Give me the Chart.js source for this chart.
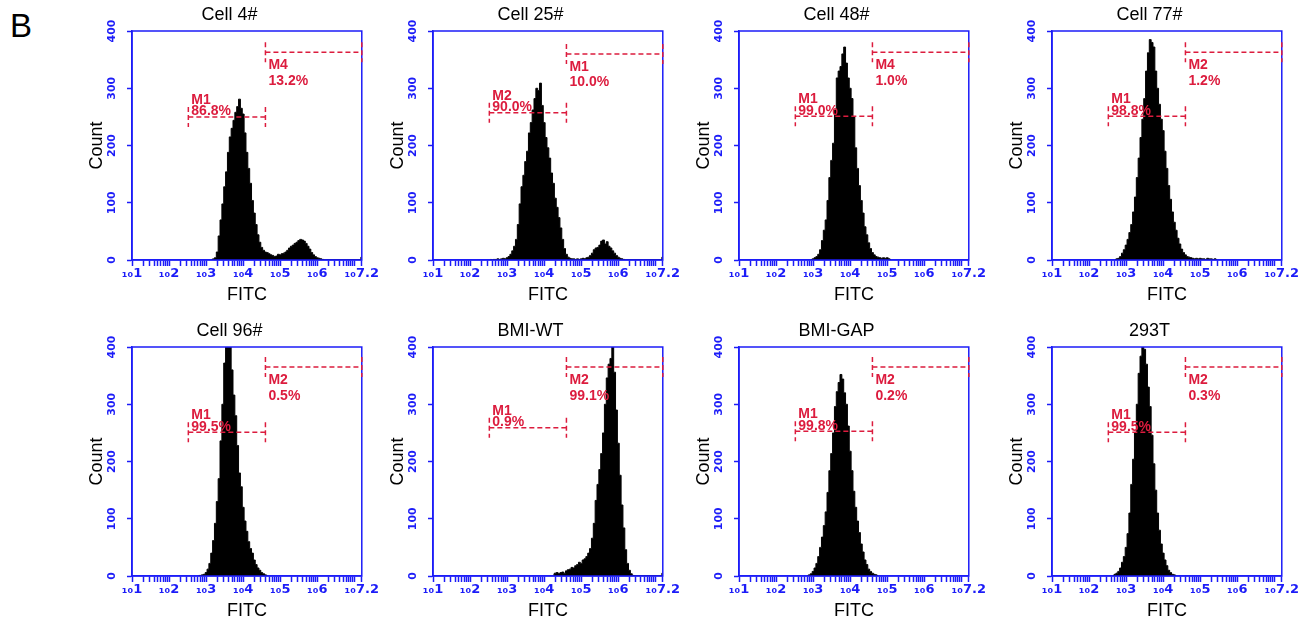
<!DOCTYPE html>
<html><head><meta charset="utf-8">
<script src="https://cdn.jsdelivr.net/npm/chart.js@4.4.1/dist/chart.umd.min.js"></script>
<style>
html,body{margin:0;padding:0;background:#fff;}
#wrap{position:relative;width:1303px;height:622px;overflow:hidden;background:#fff;}
#wrap canvas{position:absolute;}
#lbl{position:absolute;left:10px;top:9px;font-family:"Liberation Sans",Arial,sans-serif;font-size:33px;line-height:1;color:#000;}
</style></head><body>
<div id="wrap"><div id="lbl">B</div></div>
<script>
// ---------------- data ----------------
const panelTitles = ['Cell 4#', 'Cell 25#', 'Cell 48#', 'Cell 77#', 'Cell 96#', 'BMI-WT', 'BMI-GAP', '293T'];
// log10(FITC) of the first histogram bin and bin width (decades)
const binStart = [3.15, 2.55, 2.95, 2.70, 2.80, 4.25, 2.85, 2.65];
const binWidth = 0.05;
const cell4Counts = [1,2,4,14,42,70,98,128,154,188, 215,230,244,258,268,281,265,255,222,188, 160,134,104,82,62,44,31,22,17,14, 13,11,9,8,6,7,10,9,11,12, 14,17,21,24,26,29,31,34,36,35, 33,29,24,19,13,9,6,4,3,2, 1,0];
const cell25Counts = [1,0,1,1,2,1,2,3,2,4, 6,10,16,24,36,62,98,128,148,172, 190,222,240,262,282,300,296,309,270,240, 214,196,178,152,134,108,92,74,56,36, 20,10,5,3,2,2,1,2,1,2, 3,2,4,5,8,12,18,21,22,26, 33,35,28,32,24,21,16,12,8,5, 3,2,1];
const cell48Counts = [1,2,4,6,10,18,34,52,70,104, 144,174,204,262,318,330,338,360,372,344, 318,300,282,250,196,160,130,104,82,58, 44,30,20,13,9,6,5,4,3,4, 3,4,2,1];
const cell77Counts = [1,2,3,6,12,18,26,36,48,62, 84,110,144,178,214,246,282,330,362,385, 380,372,330,300,272,246,226,190,160,130, 106,84,66,52,38,28,19,13,9,6, 5,4,3,2,3,2,3,2,2,1, 3,2,2,1,2,1];
const cell96Counts = [1,1,2,3,6,12,22,40,62,92, 130,170,236,300,372,400,400,400,360,316, 280,228,180,156,120,96,78,60,48,40, 28,20,14,10,6,4,2,1];
const bmiWtCounts = [3,5,6,4,6,7,5,9,11,12, 15,14,18,20,24,22,28,30,34,40, 48,66,92,132,160,186,214,250,300,346, 370,380,400,356,290,232,176,124,84,46, 22,10,4,1];
const bmiGapCounts = [1,2,4,8,14,22,34,50,68,88, 112,146,184,214,250,296,322,338,352,344, 320,300,262,218,184,148,120,96,76,56, 42,28,20,12,8,5,3,2,1];
const t293Counts = [1,3,5,8,14,24,34,50,74,110, 160,204,250,300,354,384,400,396,370,330, 296,246,196,150,110,80,56,40,28,18, 10,6,3,2,1];
const panelCounts = [cell4Counts, cell25Counts, cell48Counts, cell77Counts, cell96Counts, bmiWtCounts, bmiGapCounts, t293Counts];
// events piled up at the top of the scale (10^7.2)
const edgeCounts = [5, 5, 0, 0, 0, 5, 0, 0];

// gates (marker regions), in log10 units
const leftGateRange = [2.52, 4.6];
const rightGateRange = [4.6, 7.2];
const leftGateName = ['M1', 'M2', 'M1', 'M1', 'M1', 'M1', 'M1', 'M1'];
const leftGatePct = ['86.8%', '90.0%', '99.0%', '98.8%', '99.5%', '0.9%', '99.8%', '99.5%'];
const leftGateLevel = [250, 257, 251, 251, 251, 259, 253, 251];
const rightGateName = ['M4', 'M1', 'M4', 'M2', 'M2', 'M2', 'M2', 'M2'];
const rightGatePct = ['13.2%', '10.0%', '1.0%', '1.2%', '0.5%', '99.1%', '0.2%', '0.3%'];
const rightGateLevel = [363, 360, 363, 363, 365, 365, 365, 365];

// axes
const xMin = 1, xMax = 7.2;
const xMajorTicks = [1, 2, 3, 4, 5, 6, 7.2];
const xTickLabels = ['\u2081\u20801', '\u2081\u20802', '\u2081\u20803', '\u2081\u20804', '\u2081\u20805', '\u2081\u20806', '\u2081\u20807.2'];
const yMin = 0, yMax = 400, yStep = 100;

// ---------------- layout / style ----------------
const plotLefts = [132, 433, 739, 1052];
const plotTops = [31, 347];
const PLOT_W = 230, PLOT_H = 229;
const BLUE = 'rgb(28,28,248)';
const RED = 'rgb(220,28,62)';
const SANS = '"Liberation Sans", Arial, sans-serif';
const DEJAVU = '"DejaVu Sans", sans-serif';

// tick values: decades plus 2..9 sub-ticks
const xTickValues = [];
for (let n = 1; n < 7; n++) for (let k = 1; k <= 9; k++) xTickValues.push(n + Math.log10(k));
xTickValues.push(7, 7.2);

const framePlugin = {
  id: 'frame',
  afterDatasetsDraw(chart) {
    const {ctx, chartArea: a} = chart;
    ctx.save();
    ctx.strokeStyle = BLUE; ctx.lineWidth = 1.5;
    ctx.strokeRect(a.left, a.top, a.right - a.left, a.bottom - a.top);
    ctx.restore();
  }
};

const gatePlugin = {
  id: 'gates',
  afterDraw(chart, args, opts) {
    const i = opts.index;
    const xs = chart.scales.x, ys = chart.scales.y, ctx = chart.ctx;
    ctx.save();
    ctx.strokeStyle = RED; ctx.lineWidth = 1.5; ctx.setLineDash([5, 3]);
    const seg = (lo, hi, level) => {
      const x0 = xs.getPixelForValue(lo), x1 = xs.getPixelForValue(hi), y = ys.getPixelForValue(level);
      ctx.beginPath();
      ctx.moveTo(x0, y); ctx.lineTo(x1, y);
      ctx.moveTo(x0, y - 10); ctx.lineTo(x0, y + 10);
      ctx.moveTo(x1, y - 10); ctx.lineTo(x1, y + 10);
      ctx.stroke();
      return {x0, y};
    };
    const L = seg(leftGateRange[0], leftGateRange[1], leftGateLevel[i]);
    const R = seg(rightGateRange[0], rightGateRange[1], rightGateLevel[i]);
    ctx.setLineDash([]);
    ctx.fillStyle = RED;
    ctx.font = 'bold 14px ' + SANS;
    ctx.textAlign = 'left'; ctx.textBaseline = 'alphabetic';
    ctx.fillText(leftGateName[i], L.x0 + 3, L.y - 13);
    ctx.fillText(leftGatePct[i], L.x0 + 3, L.y - 1.5);
    ctx.fillText(rightGateName[i], R.x0 + 3, R.y + 17);
    ctx.fillText(rightGatePct[i], R.x0 + 3, R.y + 32.5);
    ctx.restore();
  }
};

function buildData(i) {
  const pts = panelCounts[i].map((c, j) => ({x: binStart[i] + j * binWidth, y: c}));
  if (edgeCounts[i] > 0) {
    const last = pts[pts.length - 1].x;
    pts.push({x: last + binWidth, y: 0}, {x: xMax - binWidth, y: 0}, {x: xMax, y: edgeCounts[i]});
  }
  return pts;
}

function build(canvas, i) {
  return new Chart(canvas, {
    type: 'line',
    data: {datasets: [{
      data: buildData(i), stepped: 'middle', fill: 'origin',
      backgroundColor: '#000', borderColor: '#000', borderWidth: 1, pointRadius: 0
    }]},
    options: {
      responsive: false, animation: false, devicePixelRatio: 1,
      layout: {padding: 0},
      plugins: {
        legend: {display: false}, tooltip: {enabled: false},
        title: {display: true, text: panelTitles[i], color: '#000',
          font: {family: SANS, size: 18, weight: 'normal', lineHeight: 1.2}, padding: {top: 4.2, bottom: 5.2}},
        gates: {index: i}
      },
      scales: {
        x: {
          type: 'linear', min: xMin, max: xMax,
          afterBuildTicks: s => { s.ticks = xTickValues.map(v => ({value: v})); },
          afterFit: s => { s.height = 50; },
          ticks: {
            autoSkip: false, maxRotation: 0, minRotation: 0, padding: 0, color: BLUE,
            font: {family: DEJAVU, size: 13, weight: 'bold'},
            callback: v => { const k = xMajorTicks.indexOf(v); return k >= 0 ? xTickLabels[k] : ''; }
          },
          grid: {drawOnChartArea: false, color: BLUE, tickLength: 6, tickWidth: 1.5},
          border: {color: BLUE, width: 1.5},
          title: {display: true, text: 'FITC', color: '#000', font: {family: SANS, size: 18, lineHeight: 1.2}, padding: {top: 0, bottom: 4.5}}
        },
        y: {
          min: yMin, max: yMax,
          afterFit: s => { s.width = 52; },
          ticks: {
            stepSize: yStep, minRotation: 90, maxRotation: 90, crossAlign: 'center', padding: 3, color: BLUE,
            font: {family: DEJAVU, size: 11, weight: 'bold'}
          },
          grid: {drawOnChartArea: false, color: BLUE, tickLength: 5, tickWidth: 1.5},
          border: {color: BLUE, width: 1.5},
          title: {display: true, text: 'Count', color: '#000', font: {family: SANS, size: 18, lineHeight: 1.2}, padding: {top: 6.2, bottom: 0}}
        }
      }
    },
    plugins: [framePlugin, gatePlugin]
  });
}

const wrap = document.getElementById('wrap');
function mkCanvas(W, H) {
  const c = document.createElement('canvas');
  c.width = W; c.height = H; c.style.width = W + 'px'; c.style.height = H + 'px';
  wrap.appendChild(c);
  return c;
}
for (let i = 0; i < 8; i++) {
  const col = i % 4, row = Math.floor(i / 4);
  let W = 310, H = 320;
  let cv = mkCanvas(W, H), ch = build(cv, i), ca = ch.chartArea;
  W = Math.round(W + PLOT_W - (ca.right - ca.left));
  H = Math.round(H + PLOT_H - (ca.bottom - ca.top));
  ch.destroy(); cv.remove();
  cv = mkCanvas(W, H); ch = build(cv, i); ca = ch.chartArea;
  cv.style.left = Math.round(plotLefts[col] - ca.left) + 'px';
  cv.style.top = Math.round(plotTops[row] - ca.top) + 'px';
}
</script>
</body></html>
